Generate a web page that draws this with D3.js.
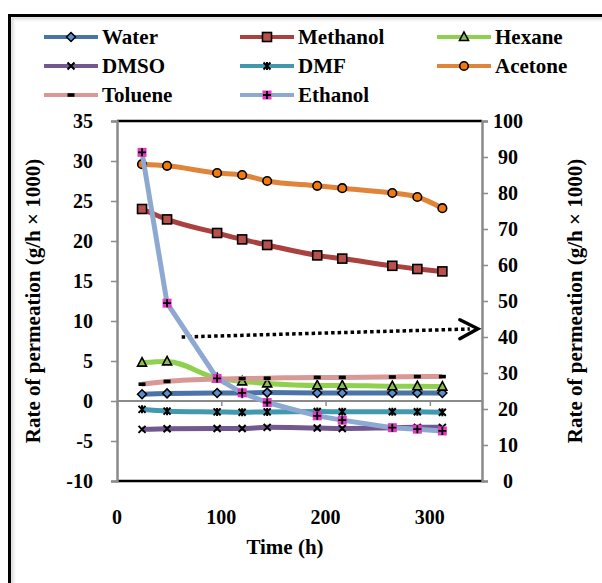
<!DOCTYPE html>
<html>
<head>
<meta charset="utf-8">
<script src="https://cdn.jsdelivr.net/npm/d3@7"></script>
<style>
  body { margin: 0; background: #fff; }
  text { font-family: "Liberation Serif", "Times New Roman", serif; font-weight: bold; fill: #000; }
</style>
</head>
<body>
<div id="chart"></div>
<script>
var svgWidth = 602;
var svgHeight = 583;

// time (h)
var time = [24, 48, 96, 120, 144, 192, 216, 264, 288, 312];

// left axis series
var water    = [0.85, 0.95, 1.0, 1.0, 1.05, 1.0, 1.0, 1.0, 1.0, 1.0];
var methanol = [24.0, 22.7, 21.0, 20.2, 19.5, 18.2, 17.8, 16.9, 16.5, 16.2];
var hexane   = [4.8, 4.95, 2.85, 2.45, 2.2, 1.95, 1.95, 1.85, 1.85, 1.8];
var acetone  = [29.6, 29.4, 28.5, 28.25, 27.5, 26.9, 26.6, 26.0, 25.5, 24.1];
var toluene  = [2.1, 2.45, 2.75, 2.8, 2.85, 2.95, 2.95, 3.0, 3.05, 3.05];

// right axis series
var dmso     = [14.35, 14.5, 14.6, 14.6, 14.9, 14.7, 14.6, 14.8, 14.9, 14.9];
var dmf      = [19.9, 19.4, 19.2, 19.1, 19.2, 19.3, 19.25, 19.25, 19.25, 19.1];
var ethanol  = [91.3, 49.4, 28.5, 24.5, 21.8, 18.1, 16.9, 14.8, 14.4, 13.9];

var xTicks = [0, 100, 200, 300];
var leftTicks = [-10, -5, 0, 5, 10, 15, 20, 25, 30, 35];
var rightTicks = [0, 10, 20, 30, 40, 50, 60, 70, 80, 90, 100];

// arrow annotation (time, right axis)
var arrowFrom = [62, 40.0];
var arrowTo = [346, 42.3];

var series = [
    {name: "Water",    values: water,    axis: "left",  color: "#4a73a8", marker: "diamond", fill: "#5b8ccc", curve: "smooth"},
    {name: "Methanol", values: methanol, axis: "left",  color: "#a9413e", marker: "square",  fill: "#b9504c", curve: "smooth"},
    {name: "Hexane",   values: hexane,   axis: "left",  color: "#8fd14f", marker: "triangle", fill: "#8dbd4e", curve: "smooth"},
    {name: "DMSO",     values: dmso,     axis: "right", color: "#71588f", marker: "x", curve: "smooth"},
    {name: "DMF",      values: dmf,      axis: "right", color: "#4198af", marker: "star", curve: "smooth"},
    {name: "Acetone",  values: acetone,  axis: "left",  color: "#e0843a", marker: "circle",  fill: "#f07a10", curve: "smooth"},
    {name: "Toluene",  values: toluene,  axis: "left",  color: "#d79896", marker: "dash", curve: "smooth"},
    {name: "Ethanol",  values: ethanol,  axis: "right", color: "#8ea9d1", marker: "plusbox", fill: "#e03cc0", curve: "straight"}
];

var plot = {left: 117, right: 482, top: 121, bottom: 481};

var svg = d3.select("#chart")
    .append("svg")
    .attr("width", svgWidth)
    .attr("height", svgHeight);

// outer frame with soft inner shadow
var shades = ["#c8c8c8", "#dcdcdc", "#ececec", "#f6f6f6"];
shades.forEach(function(c, i) {
    svg.append("path")
        .attr("d", `M${12 + i},${svgHeight + 5} V${18 + i} H${svgWidth + 5}`)
        .attr("fill", "none")
        .attr("stroke", c)
        .attr("stroke-width", 1);
});
svg.append("rect")
    .attr("x", 9.5).attr("y", 15.5)
    .attr("width", svgWidth + 20).attr("height", svgHeight + 20)
    .attr("fill", "none")
    .attr("stroke", "#000")
    .attr("stroke-width", 3);

var xScale = d3.scaleLinear().domain([0, 350]).range([plot.left, plot.right]);
var yLeft = d3.scaleLinear().domain([-10, 35]).range([plot.bottom, plot.top]);
var yRight = d3.scaleLinear().domain([0, 100]).range([plot.bottom, plot.top]);

function yFor(s) { return s.axis === "right" ? yRight : yLeft; }

// plot frame: black top & bottom, gray side axes
svg.append("line")
    .attr("x1", plot.left).attr("x2", plot.right)
    .attr("y1", plot.top).attr("y2", plot.top)
    .attr("stroke", "#000").attr("stroke-width", 2.5);
svg.append("line")
    .attr("x1", plot.left).attr("x2", plot.right)
    .attr("y1", plot.bottom).attr("y2", plot.bottom)
    .attr("stroke", "#000").attr("stroke-width", 2.5);

function styleTicks(g) {
    g.attr("font-family", null).attr("font-size", null);
    g.select(".domain").attr("stroke", "#8a8a8a").attr("stroke-width", 2.5);
    g.selectAll(".tick line").attr("stroke", "#8a8a8a").attr("stroke-width", 1.5);
    g.selectAll(".tick text")
        .style("font-family", "'Liberation Serif', 'Times New Roman', serif")
        .style("font-weight", "bold")
        .style("font-size", "20px")
        .attr("fill", "#000");
}

// left axis
var leftAxis = d3.axisLeft(yLeft).tickValues(leftTicks).tickSize(6).tickFormat(d => String(d));
var gLeft = svg.append("g")
    .attr("transform", `translate(${plot.left}, 0)`)
    .call(leftAxis);
styleTicks(gLeft);
gLeft.selectAll(".tick text").attr("x", -24);

// right axis
var rightAxis = d3.axisRight(yRight).tickValues(rightTicks).tickSize(6).tickFormat(d => String(d));
var gRight = svg.append("g")
    .attr("transform", `translate(${plot.right}, 0)`)
    .call(rightAxis);
styleTicks(gRight);
gRight.selectAll(".tick text").attr("x", 26).attr("text-anchor", "middle");

// horizontal axis crossing at y = 0
var bottomAxis = d3.axisBottom(xScale).tickValues(xTicks).tickSize(5).tickFormat("");
var gZero = svg.append("g")
    .attr("transform", `translate(0, ${yLeft(0)})`)
    .call(bottomAxis);
gZero.select(".domain").attr("stroke", "#8a8a8a").attr("stroke-width", 2).attr("d", `M${plot.left},0H${plot.right}`);
gZero.selectAll(".tick line").attr("stroke", "#8a8a8a").attr("stroke-width", 1.5);

// x labels placed low
svg.append("g").selectAll("text")
    .data(xTicks)
    .enter()
    .append("text")
    .attr("x", d => xScale(d))
    .attr("y", 524)
    .attr("text-anchor", "middle")
    .attr("font-size", "20px")
    .text(d => d);

// axis titles
svg.append("text")
    .attr("x", 285).attr("y", 554)
    .attr("text-anchor", "middle")
    .attr("font-size", "21px")
    .text("Time (h)");

svg.append("text")
    .attr("transform", `translate(40, ${(plot.top + plot.bottom) / 2}) rotate(-90)`)
    .attr("text-anchor", "middle")
    .attr("font-size", "21px")
    .text("Rate of permeation (g/h \u00d7 1000)");

svg.append("text")
    .attr("transform", `translate(582, ${(plot.top + plot.bottom) / 2}) rotate(-90)`)
    .attr("text-anchor", "middle")
    .attr("font-size", "21px")
    .text("Rate of permeation (g/h \u00d7 1000)");

// dotted arrow
svg.append("line")
    .attr("x1", xScale(arrowFrom[0])).attr("y1", yRight(arrowFrom[1]))
    .attr("x2", xScale(arrowTo[0]) - 8).attr("y2", yRight(arrowTo[1]) + 0.3)
    .attr("stroke", "#000")
    .attr("stroke-width", 3.5)
    .attr("stroke-dasharray", "3.5,3");
var ax = xScale(arrowTo[0]), ay = yRight(arrowTo[1]);
svg.append("path")
    .attr("d", `M${ax - 18},${ay - 9} L${ax},${ay} L${ax - 18},${ay + 10}`)
    .attr("fill", "none")
    .attr("stroke", "#000")
    .attr("stroke-width", 3.5)
    .attr("stroke-linecap", "round")
    .attr("stroke-linejoin", "miter");

// markers
function drawMarker(g, type, x, y, fill) {
    if (type === "diamond") {
        g.append("path").attr("d", `M${x},${y - 4.5}L${x + 4.5},${y}L${x},${y + 4.5}L${x - 4.5},${y}Z`)
            .attr("fill", fill).attr("stroke", "#000").attr("stroke-width", 1.5);
    } else if (type === "square") {
        g.append("rect").attr("x", x - 4.5).attr("y", y - 4.5).attr("width", 9).attr("height", 9)
            .attr("fill", fill).attr("stroke", "#000").attr("stroke-width", 1.6);
    } else if (type === "triangle") {
        g.append("path").attr("d", `M${x},${y - 5}L${x + 4.5},${y + 3.5}L${x - 4.5},${y + 3.5}Z`)
            .attr("fill", fill).attr("stroke", "#000").attr("stroke-width", 1.6);
    } else if (type === "circle") {
        g.append("circle").attr("cx", x).attr("cy", y).attr("r", 4.3)
            .attr("fill", fill).attr("stroke", "#000").attr("stroke-width", 1.6);
    } else if (type === "x") {
        g.append("path").attr("d", `M${x - 3.5},${y - 3.5}L${x + 3.5},${y + 3.5}M${x - 3.5},${y + 3.5}L${x + 3.5},${y - 3.5}`)
            .attr("stroke", "#000").attr("stroke-width", 2);
    } else if (type === "star") {
        g.append("path").attr("d", `M${x - 3.5},${y - 3.5}L${x + 3.5},${y + 3.5}M${x - 3.5},${y + 3.5}L${x + 3.5},${y - 3.5}M${x},${y - 4}L${x},${y + 4}`)
            .attr("stroke", "#000").attr("stroke-width", 2);
    } else if (type === "dash") {
        g.append("rect").attr("x", x - 3.5).attr("y", y - 1.8).attr("width", 7).attr("height", 3.6)
            .attr("fill", "#000");
    } else if (type === "plusbox") {
        g.append("rect").attr("x", x - 4.5).attr("y", y - 4.5).attr("width", 9).attr("height", 9)
            .attr("fill", fill);
        g.append("path").attr("d", `M${x - 4},${y}L${x + 4},${y}M${x},${y - 4}L${x},${y + 4}`)
            .attr("stroke", "#000").attr("stroke-width", 1.8);
    }
}

var lineGroup = svg.append("g");
series.forEach(function(s) {
    var ys = yFor(s);
    var pts = time.map((t, i) => [xScale(t), ys(s.values[i])]);
    var line = d3.line().curve(s.curve === "smooth" ? d3.curveMonotoneX : d3.curveLinear);
    var g = lineGroup.append("g");
    g.append("path")
        .attr("d", line(pts))
        .attr("fill", "none")
        .attr("stroke", s.color)
        .attr("stroke-width", 5)
        .attr("stroke-linejoin", "round");
    pts.forEach(function(p) {
        drawMarker(g, s.marker, p[0], p[1], s.fill);
    });
});

// legend
var legendCols = [44, 240, 437];
var legendRows = [37, 66, 95];
var legend = svg.append("g");
series.forEach(function(s, i) {
    var lx = legendCols[i % 3];
    var ly = legendRows[Math.floor(i / 3)];
    var item = legend.append("g");
    item.append("line")
        .attr("x1", lx).attr("x2", lx + 54)
        .attr("y1", ly).attr("y2", ly)
        .attr("stroke", s.color)
        .attr("stroke-width", 4);
    drawMarker(item, s.marker, lx + 27, ly, s.fill);
    item.append("text")
        .attr("x", lx + 58)
        .attr("y", ly + 7)
        .attr("font-size", "21px")
        .text(s.name);
});
</script>
</body>
</html>
